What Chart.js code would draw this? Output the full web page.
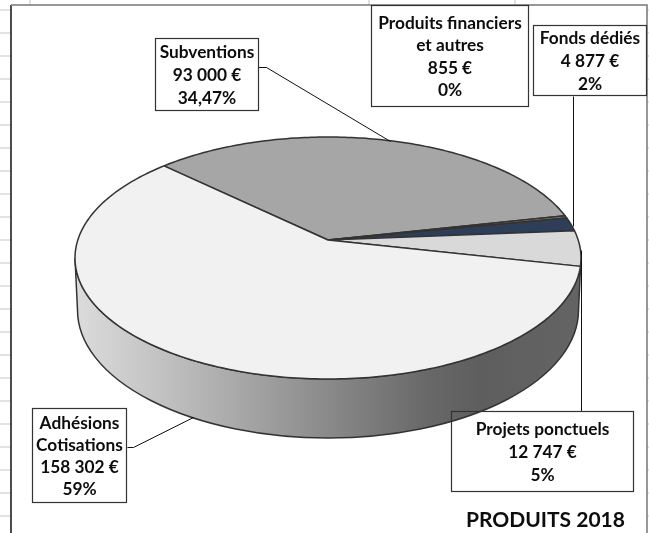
<!DOCTYPE html>
<html lang="fr">
<head>
<meta charset="utf-8">
<title>PRODUITS 2018</title>
<script src="https://cdn.jsdelivr.net/npm/chart.js@4/dist/chart.umd.min.js"></script>
<style>html,body{margin:0;padding:0;background:#fff}canvas{display:block}</style>
</head>
<body>
<canvas id="c" width="649" height="533"></canvas>
<script>
const categories = ['Subventions', 'Produits financiers et autres', 'Fonds dédiés', 'Projets ponctuels', 'Adhésions Cotisations'];
const values = [93000, 855, 4877, 12747, 158302];
const amountLabels = ['93 000 €', '855 €', '4 877 €', '12 747 €', '158 302 €'];
const percentLabels = ['34,47%', '0%', '2%', '5%', '59%'];
const nameLines = [['Subventions'], ['Produits financiers', 'et autres'], ['Fonds dédiés'], ['Projets ponctuels'], ['Adhésions', 'Cotisations']];
const sliceColors = ['#a6a6a6', '#7f7f7f', '#2f3e58', '#d9d9d9', '#f1f1f1'];
const chartTitle = 'PRODUITS 2018';

/* label boxes: x, y, w, h, first-text-line centre, line step */
const boxes = [
  {x:155.5, y:38.5,  w:103, h:72, t:52, s:23},
  {x:371.5, y:5.5,   w:157, h:101,t:23, s:22.5},
  {x:533.5, y:25.5,  w:113, h:70, t:38.5, s:23},
  {x:451.5, y:411.5, w:182, h:80, t:429, s:23},
  {x:32.5,  y:408.5, w:94,  h:94, t:423, s:22}
];
const leaders = [
  [[258,67],[266,67],[390,141]],
  [],
  [[573,96],[573,226]],
  [[581,250],[581,411]],
  [[127,447],[133,447],[193,417]]
];

/* pie geometry: top rim ellipse, lower wall ellipse, perspective shift of the apex */
const TOP = {cx:328, cy:258, a:253, b:121};
const BOT = {cx:328, cy:310, a:250.5, b:128};
const Q = 18 / 121;

function rimPoint(theta) {
  const u = Math.cos(theta), v = -Math.sin(theta);
  const d = 1 + Q * v;
  const up = u * Math.sqrt(1 - Q * Q) / d;
  const vp = (v + Q) / d;
  return [TOP.cx + TOP.a * up, TOP.cy - TOP.b * vp];
}

const pie3d = {
  id: 'pie3d',
  beforeDraw(chart) {
    const c = chart.ctx;
    c.save();
    c.fillStyle = '#fff';
    c.fillRect(0, 0, 649, 533);
    c.strokeStyle = '#d9d9d9';
    c.lineWidth = 1.5;
    c.beginPath();
    for (let y = 10; y < 533; y += 23) {
      c.moveTo(0, y); c.lineTo(11, y);
      c.moveTo(647, y); c.lineTo(649, y);
    }
    [30, 369, 515].forEach(x => { c.moveTo(x, 0); c.lineTo(x, 5); });
    c.stroke();
    c.strokeStyle = '#111';
    c.lineWidth = 1.5;
    c.beginPath(); c.moveTo(11, 533); c.lineTo(11, 5); c.stroke();
    c.strokeStyle = '#777';
    c.beginPath(); c.moveTo(11, 5); c.lineTo(647, 5); c.lineTo(647, 533); c.stroke();
    c.restore();
  },
  beforeDatasetDraw(chart, args) {
    const c = chart.ctx;
    c.save();
    /* wall */
    const g = c.createLinearGradient(75, 0, 581, 0);
    [[0, '#dcdcdc'], [0.2, '#bdbdbd'], [0.48, '#8d8d8d'], [0.7, '#686868'], [0.8, '#5e5e5e'], [1, '#646464']]
      .forEach(s => g.addColorStop(s[0], s[1]));
    c.beginPath();
    c.ellipse(BOT.cx, BOT.cy, BOT.a, BOT.b, 0, Math.PI, 0, true);
    c.lineTo(TOP.cx + TOP.a, TOP.cy);
    c.ellipse(TOP.cx, TOP.cy, TOP.a, TOP.b, 0, 0, Math.PI, false);
    c.closePath();
    c.fillStyle = g;
    c.fill();
    c.strokeStyle = '#333';
    c.lineWidth = 1.5;
    c.stroke();
    /* slices: angles come from the library's arc elements */
    args.meta.data.forEach(el => {
      const p = el.getProps(['startAngle', 'endAngle'], true);
      const n = Math.max(2, Math.ceil((p.endAngle - p.startAngle) * 60));
      c.beginPath();
      c.moveTo(328, 240);
      for (let i = 0; i <= n; i++) {
        const q = rimPoint(p.startAngle + (p.endAngle - p.startAngle) * i / n);
        c.lineTo(q[0], q[1]);
      }
      c.closePath();
      c.fillStyle = el.options.backgroundColor;
      c.fill();
      c.lineJoin = 'round';
      c.strokeStyle = el.options.borderColor;
      c.lineWidth = el.options.borderWidth;
      c.stroke();
    });
    c.restore();
    return false;
  },
  afterDatasetsDraw(chart) {
    const c = chart.ctx;
    c.save();
    c.strokeStyle = '#111';
    c.lineWidth = 1;
    leaders.forEach(l => {
      if (!l.length) return;
      c.beginPath();
      l.forEach((p, i) => i ? c.lineTo(p[0] + .5, p[1] + .5) : c.moveTo(p[0] + .5, p[1] + .5));
      c.stroke();
    });
    c.font = 'bold 17.3px Lato, sans-serif';
    c.textAlign = 'center';
    c.textBaseline = 'middle';
    c.fillStyle = '#0d0d0d';
    categories.forEach((name, i) => {
      const b = boxes[i];
      c.strokeStyle = '#333';
      c.lineWidth = 1.2;
      c.strokeRect(b.x, b.y, b.w, b.h);
      const lines = nameLines[i].concat([amountLabels[i], percentLabels[i]]);
      lines.forEach((t, k) => c.fillText(t, b.x + b.w / 2, b.t + k * b.s));
    });
    c.font = 'bold 21px Lato, sans-serif';
    c.textAlign = 'left';
    c.fillText(chartTitle, 466, 520);
    c.restore();
  }
};

new Chart(document.getElementById('c'), {
  type: 'pie',
  data: {
    labels: categories,
    datasets: [{
      data: values,
      backgroundColor: sliceColors,
      borderColor: '#333',
      borderWidth: 1.5
    }]
  },
  options: {
    responsive: false,
    animation: false,
    rotation: -46.3,
    plugins: {legend: {display: false}, tooltip: {enabled: false}, title: {display: false}}
  },
  plugins: [pie3d]
});
</script>
</body>
</html>
